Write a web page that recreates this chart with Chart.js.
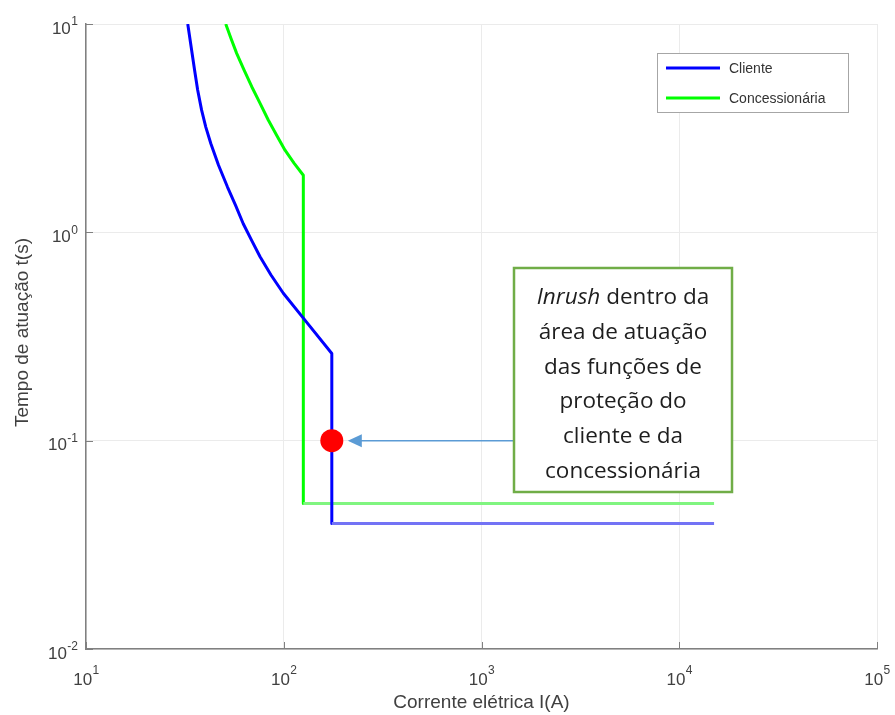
<!DOCTYPE html>
<html>
<head>
<meta charset="utf-8">
<script src="https://cdn.jsdelivr.net/npm/chart.js@4"></script>
<style>
  html, body { margin: 0; padding: 0; background: #fff; }
  canvas { display: block; }
</style>
</head>
<body>
<canvas id="tccChart" width="895" height="715"></canvas>
<script>
// curva do cliente (corrente em A, tempo em s)
const clienteCorrente = [32.7, 35.4, 36.7, 38.4, 40.35, 42.77, 46.8, 51.95, 57.0, 62.4, 68.7, 75.9, 86.2, 99.5, 128, 175, 175, 15000];
const clienteTempo = [10, 6.02, 4.82, 3.87, 3.20, 2.67, 2.10, 1.65, 1.352, 1.10, 0.918, 0.764, 0.624, 0.51, 0.379, 0.262, 0.04, 0.04];

// curva da concessionaria
const concCorrente = [50.9, 54.0, 57.8, 62.95, 68.9, 75.7, 83.5, 91.9, 101.5, 112.7, 125.6, 125.6, 15000];
const concTempo = [10, 8.57, 7.23, 6.02, 5.0, 4.18, 3.46, 2.93, 2.48, 2.15, 1.88, 0.05, 0.05];

// ponto de inrush
const inrushCorrente = [175];
const inrushTempo = [0.1];

const xTicks = [10, 100, 1000, 10000, 100000];
const yTicks = [0.01, 0.1, 1, 10];

const seriesLabels = ["Cliente", "Concessionária"];
const noteLines = [
  [["Inrush", true], [" dentro da", false]],
  [["área de atuação", false]],
  [["das funções de", false]],
  [["proteção do", false]],
  [["cliente e da", false]],
  [["concessionária", false]]
];

function toPoints(xs, ys) {
  return xs.map((x, i) => ({ x: x, y: ys[i] }));
}

const AXIS_FONT = '"Liberation Sans", Arial, sans-serif';
const NOTE_FONT = '"Open Sans", sans-serif';

// eixos, rotulos, legenda e caixa de texto
const decorPlugin = {
  id: "decor",
  afterDraw(chart) {
    const ctx = chart.ctx;
    const xs = chart.scales.x;
    const ys = chart.scales.y;
    const area = chart.chartArea;

    ctx.save();

    // tick marks (inside)
    ctx.strokeStyle = "#808080";
    ctx.lineWidth = 1;
    xTicks.forEach(v => {
      const px = Math.round(xs.getPixelForValue(v)) + 0.5;
      ctx.beginPath();
      ctx.moveTo(px, area.bottom);
      ctx.lineTo(px, area.bottom - 7);
      ctx.stroke();
    });
    yTicks.forEach(v => {
      const py = Math.round(ys.getPixelForValue(v)) + 0.5;
      ctx.beginPath();
      ctx.moveTo(area.left, py);
      ctx.lineTo(area.left + 7, py);
      ctx.stroke();
    });

    // tick labels 10^n
    ctx.fillStyle = "#404040";
    const baseFont = "17px " + AXIS_FONT;
    const expFont = "12px " + AXIS_FONT;
    ctx.textBaseline = "middle";
    function labelWidth(exp) {
      ctx.font = baseFont;
      const wb = ctx.measureText("10").width;
      ctx.font = expFont;
      const we = ctx.measureText(exp).width;
      return [wb, we];
    }
    xTicks.forEach(v => {
      const exp = String(Math.round(Math.log10(v)));
      const [wb, we] = labelWidth(exp);
      const px = xs.getPixelForValue(v);
      const left = px - (wb + we) / 2;
      ctx.textAlign = "left";
      ctx.font = baseFont;
      ctx.fillText("10", left, area.bottom + 31);
      ctx.font = expFont;
      ctx.fillText(exp, left + wb + 0.5, area.bottom + 22);
    });
    yTicks.forEach(v => {
      const exp = String(Math.round(Math.log10(v)));
      const [wb, we] = labelWidth(exp);
      const py = ys.getPixelForValue(v);
      const right = area.left - 8;
      ctx.textAlign = "left";
      ctx.font = baseFont;
      ctx.fillText("10", right - we - wb - 0.5, py + 5);
      ctx.font = expFont;
      ctx.fillText(exp, right - we, py - 2);
    });

    // axis titles
    ctx.font = "19px " + AXIS_FONT;
    ctx.textAlign = "center";
    ctx.fillText("Corrente elétrica I(A)", (area.left + area.right) / 2, area.bottom + 54);
    ctx.save();
    ctx.translate(23, (area.top + area.bottom) / 2 - 4);
    ctx.rotate(-Math.PI / 2);
    ctx.fillText("Tempo de atuação t(s)", 0, 0);
    ctx.restore();

    // legend
    const lg = { x: 657, y: 53, w: 191, h: 59 };
    ctx.fillStyle = "#fff";
    ctx.fillRect(lg.x, lg.y, lg.w, lg.h);
    ctx.strokeStyle = "#a6a6a6";
    ctx.lineWidth = 1;
    ctx.strokeRect(lg.x + 0.5, lg.y + 0.5, lg.w, lg.h);
    ctx.font = "14px " + AXIS_FONT;
    ctx.textAlign = "left";
    seriesLabels.forEach((label, i) => {
      const ds = chart.data.datasets[i];
      const ly = lg.y + 15 + i * 30;
      ctx.strokeStyle = ds.borderColor;
      ctx.lineWidth = 3;
      ctx.beginPath();
      ctx.moveTo(666, ly);
      ctx.lineTo(720, ly);
      ctx.stroke();
      ctx.fillStyle = "#333";
      ctx.fillText(label, 729, ly + 1);
    });

    // arrow pointing to the inrush dot
    const dotX = xs.getPixelForValue(inrushCorrente[0]);
    const dotY = ys.getPixelForValue(inrushTempo[0]);
    const box = { x: 514, y: 268, w: 218, h: 224 };
    const tipX = dotX + 16;
    ctx.strokeStyle = "#5b9bd5";
    ctx.fillStyle = "#5b9bd5";
    ctx.lineWidth = 1.5;
    ctx.beginPath();
    ctx.moveTo(box.x, dotY);
    ctx.lineTo(tipX + 12, dotY);
    ctx.stroke();
    ctx.beginPath();
    ctx.moveTo(tipX, dotY);
    ctx.lineTo(tipX + 14, dotY - 6.5);
    ctx.lineTo(tipX + 14, dotY + 6.5);
    ctx.closePath();
    ctx.fill();

    // text box
    ctx.fillStyle = "#fff";
    ctx.fillRect(box.x, box.y, box.w, box.h);
    ctx.strokeStyle = "#70ad47";
    ctx.lineWidth = 2.5;
    ctx.strokeRect(box.x, box.y, box.w, box.h);

    ctx.fillStyle = "#1e1e1e";
    ctx.textBaseline = "alphabetic";
    const cx = box.x + box.w / 2;
    const noteSize = "22.5px ";
    noteLines.forEach((parts, i) => {
      const baseY = 304 + i * 34.8;
      let total = 0;
      parts.forEach(([t, it]) => {
        ctx.font = (it ? "italic " : "") + noteSize + NOTE_FONT;
        total += ctx.measureText(t).width;
      });
      let x = cx - total / 2;
      parts.forEach(([t, it]) => {
        ctx.font = (it ? "italic " : "") + noteSize + NOTE_FONT;
        ctx.fillText(t, x, baseY);
        x += ctx.measureText(t).width;
      });
    });

    ctx.restore();
  }
};

function flatColor(light) {
  return ctx => {
    const p0 = ctx.p0.parsed, p1 = ctx.p1.parsed;
    return p0.y === p1.y ? light : undefined;
  };
}

new Chart(document.getElementById("tccChart"), {
  type: "scatter",
  data: {
    datasets: [
      {
        label: seriesLabels[0],
        data: toPoints(clienteCorrente, clienteTempo),
        showLine: true,
        borderColor: "#0000ff",
        borderWidth: 3,
        borderJoinStyle: "round",
        pointRadius: 0,
        tension: 0,
        segment: { borderColor: flatColor("#7373f5") },
        order: 1
      },
      {
        label: seriesLabels[1],
        data: toPoints(concCorrente, concTempo),
        showLine: true,
        borderColor: "#00ff00",
        borderWidth: 3,
        borderJoinStyle: "round",
        pointRadius: 0,
        tension: 0,
        segment: { borderColor: flatColor("#80f580") },
        order: 2
      },
      {
        label: "Inrush",
        data: toPoints(inrushCorrente, inrushTempo),
        showLine: false,
        pointRadius: 11.5,
        pointBackgroundColor: "#ff0000",
        pointBorderColor: "#ff0000",
        pointBorderWidth: 0,
        order: 0
      }
    ]
  },
  options: {
    responsive: false,
    animation: false,
    devicePixelRatio: 1,
    layout: { padding: { left: 86, top: 24, right: 18, bottom: 66 } },
    plugins: {
      legend: { display: false },
      tooltip: { enabled: false }
    },
    scales: {
      x: {
        type: "logarithmic",
        min: 10,
        max: 100000,
        afterBuildTicks: s => { s.ticks = xTicks.map(v => ({ value: v })); },
        afterFit: s => { s.height = 0; },
        ticks: { display: false },
        grid: { color: "#ebebeb", lineWidth: 1, drawTicks: false },
        border: { display: true, color: "#808080", width: 1.5 }
      },
      y: {
        type: "logarithmic",
        min: 0.01,
        max: 10,
        afterBuildTicks: s => { s.ticks = yTicks.map(v => ({ value: v })); },
        afterFit: s => { s.width = 0; },
        ticks: { display: false },
        grid: { color: "#ebebeb", lineWidth: 1, drawTicks: false },
        border: { display: true, color: "#808080", width: 1.5 }
      }
    }
  },
  plugins: [decorPlugin]
});
</script>
</body>
</html>
